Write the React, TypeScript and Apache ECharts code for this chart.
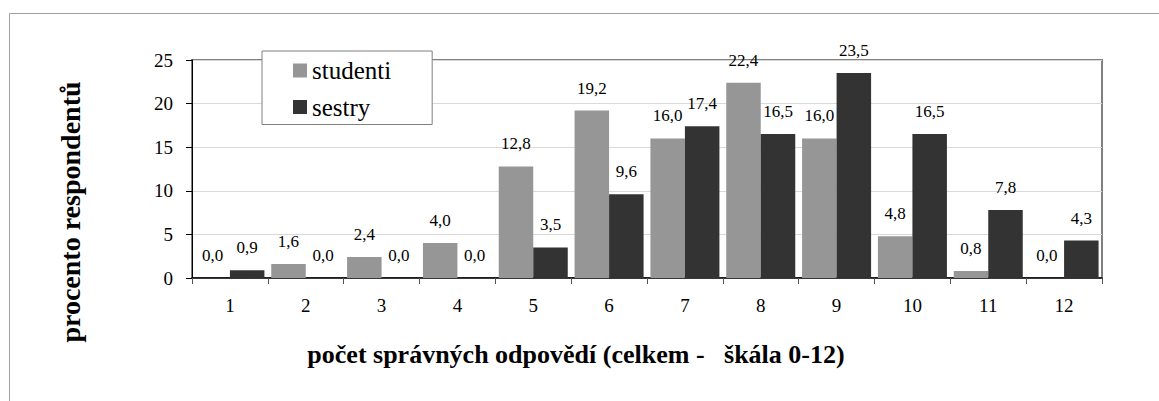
import React, { useEffect, useRef } from "react";
import * as echarts from "echarts";

const categories = ["1", "2", "3", "4", "5", "6", "7", "8", "9", "10", "11", "12"];
const studenti = [0.0, 1.6, 2.4, 4.0, 12.8, 19.2, 16.0, 22.4, 16.0, 4.8, 0.8, 0.0];
const sestry = [0.9, 0.0, 0.0, 0.0, 3.5, 9.6, 17.4, 16.5, 23.5, 16.5, 7.8, 4.3];
const seriesNames = ["studenti", "sestry"];
const yTitle = "procento respondentů";
const xTitle = "počet správných odpovědí (celkem -   škála 0-12)";

const fmt = (v: number) => v.toFixed(1).replace(".", ",");
const SERIF = "'Liberation Serif', serif";

export default function App() {
  const ref = useRef<HTMLDivElement>(null);
  useEffect(() => {
    if (!ref.current) return;
    const chart = echarts.init(ref.current, undefined, { renderer: "svg" });
    const labelCfg = {
      show: true,
      position: "top" as const,
      distance: 14,
      fontFamily: SERIF,
      fontSize: 17,
      color: "#000",
      formatter: (p: any) => fmt(p.value),
    };
    chart.setOption({
      animation: false,
      backgroundColor: "#fff",
      grid: {
        left: 192,
        right: 57,
        top: 60,
        bottom: 123,
        show: true,
        borderColor: "#808080",
        borderWidth: 2,
        backgroundColor: "transparent",
      },
      legend: {
        data: seriesNames,
        orient: "vertical",
        left: 262,
        top: 51,
        padding: [7, 41, 5, 31],
        itemGap: 11.5,
        itemWidth: 14,
        itemHeight: 14,
        icon: "rect",
        backgroundColor: "#fff",
        borderColor: "#808080",
        borderWidth: 1,
        textStyle: {
          fontFamily: SERIF,
          fontSize: 25,
          lineHeight: 24,
          color: "#000",
        },
      },
      xAxis: {
        type: "category",
        data: categories,
        boundaryGap: true,
        axisLine: { lineStyle: { color: "#000", width: 1.5 } },
        axisTick: { show: true, length: 6, lineStyle: { color: "#555" } },
        axisLabel: {
          margin: 18,
          fontFamily: SERIF,
          fontSize: 19,
          color: "#000",
        },
      },
      yAxis: {
        type: "value",
        min: 0,
        max: 25,
        interval: 5,
        axisLine: { show: true, lineStyle: { color: "#000", width: 1 } },
        axisTick: { show: true, length: 6, lineStyle: { color: "#000" } },
        axisLabel: {
          margin: 19,
          fontFamily: SERIF,
          fontSize: 19,
          color: "#000",
        },
        splitLine: { show: true, lineStyle: { color: "#d9d9d9", width: 1 } },
      },
      series: [
        {
          name: seriesNames[0],
          type: "bar",
          data: studenti,
          barGap: "0%",
          barCategoryGap: "9%",
          itemStyle: { color: "#969696" },
          label: labelCfg,
        },
        {
          name: seriesNames[1],
          type: "bar",
          data: sestry,
          barGap: "0%",
          barCategoryGap: "9%",
          itemStyle: { color: "#333333" },
          label: labelCfg,
        },
      ],
      graphic: [
        {
          type: "rect",
          silent: true,
          z: -10,
          shape: { x: 9.5, y: 13.5, width: 1400, height: 600 },
          style: { fill: "none", stroke: "#a0a0a0", lineWidth: 1 },
        },
        {
          type: "text",
          x: 576,
          y: 354,
          style: {
            text: xTitle,
            fontFamily: SERIF,
            fontWeight: "bold",
            fontSize: 26,
            fill: "#000",
            align: "center",
            verticalAlign: "middle",
          },
        },
        {
          type: "text",
          x: 70,
          y: 212,
          rotation: Math.PI / 2,
          style: {
            text: yTitle,
            fontFamily: SERIF,
            fontWeight: "bold",
            fontSize: 28,
            fill: "#000",
            align: "center",
            verticalAlign: "middle",
          },
        },
      ],
    });
    return () => chart.dispose();
  }, []);
  return (
    <div
      ref={ref}
      style={{ position: "fixed", left: 0, top: 0, width: 1159, height: 401 }}
    />
  );
}
